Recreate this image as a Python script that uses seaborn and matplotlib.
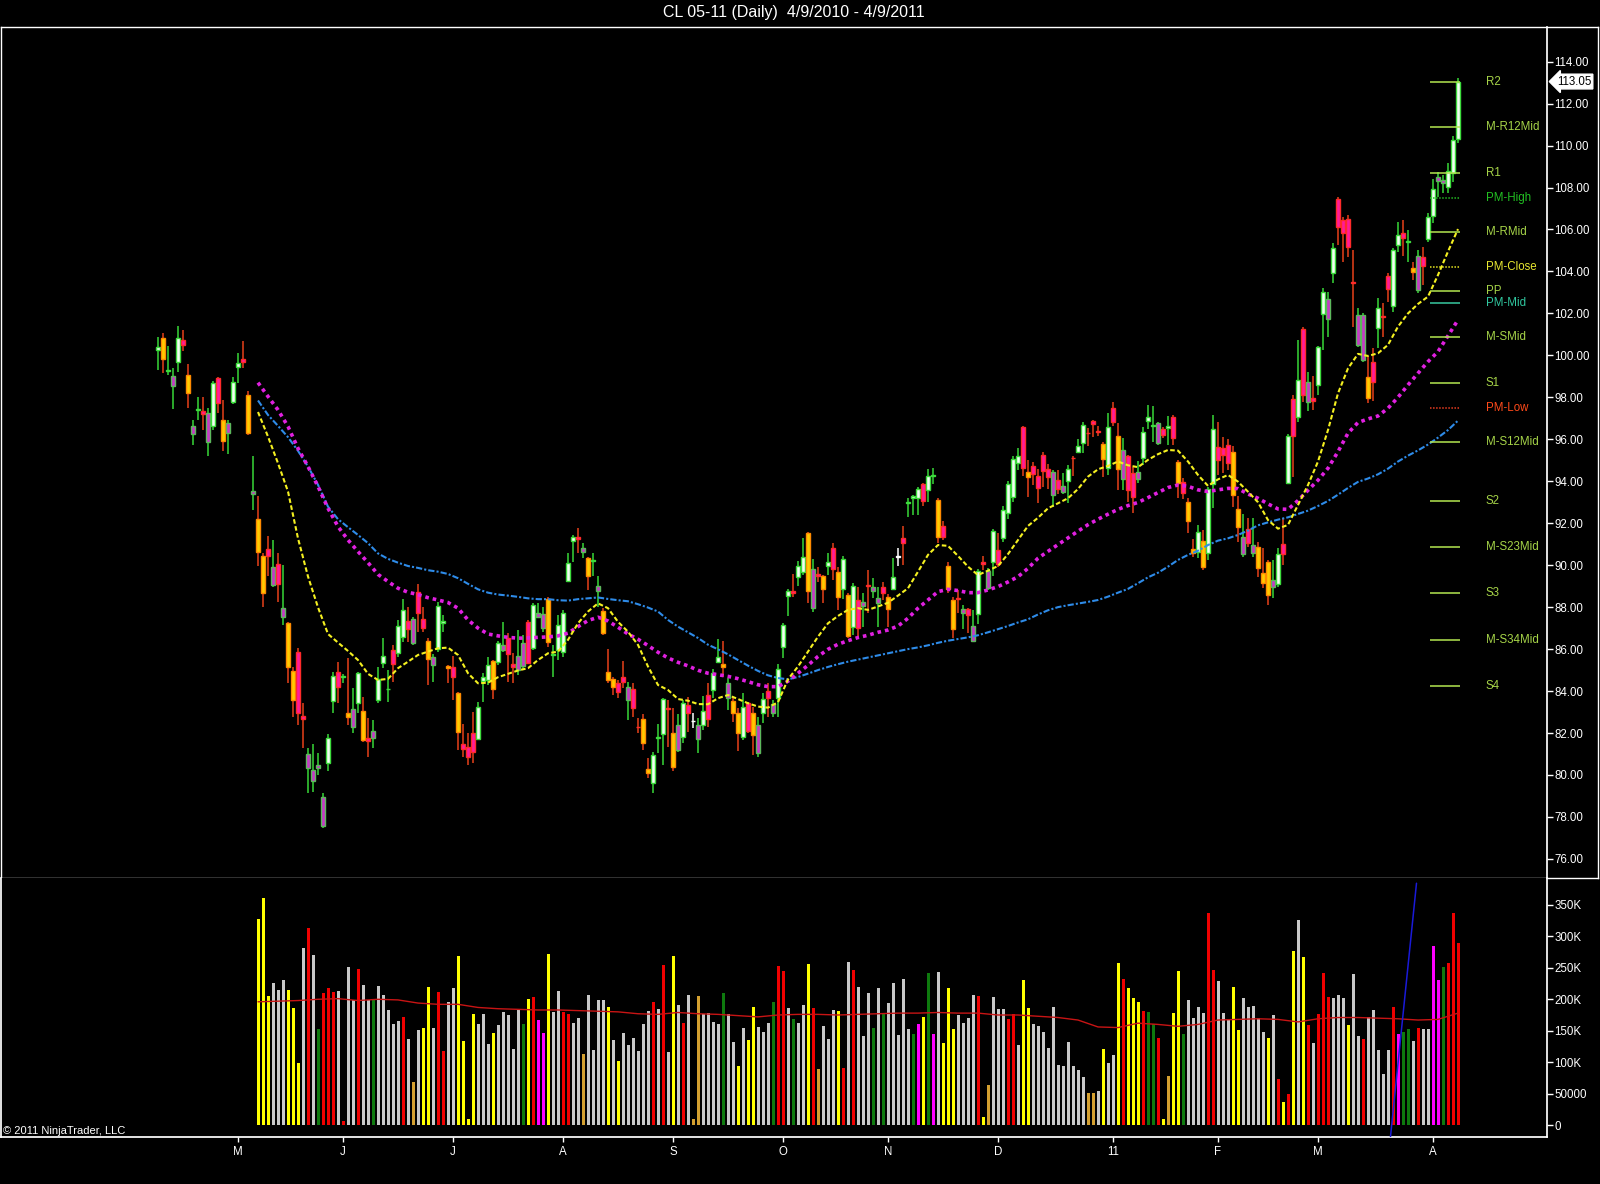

# Grafico diario del CL 05-11 con velas, medias, pivotes y volumen
#############################################################

import matplotlib
matplotlib.use('Agg')
import matplotlib.pyplot as plt
import matplotlib.transforms as mtransforms
import seaborn as sns
import pandas as pd
import numpy as np

# Datos de las velas (una por dia habil, 4/9/2010 - 4/8/2011) ----------------
opens = [
    100.25, 100.82, 99.25, 98.56, 99.70, 100.74, 99.07, 96.24, 97.40, 97.37,
    95.89, 96.64, 98.91, 96.92, 96.32, 97.80, 99.43, 99.83, 98.12, 93.40,
    92.19, 90.44, 90.76, 89.06, 90.06, 87.55, 87.23, 84.96, 85.88, 82.82,
    80.32, 79.69, 80.32, 77.57, 80.56, 83.53, 84.93, 84.69, 82.94, 82.31,
    83.42, 83.07, 81.75, 81.75, 83.58, 85.33, 84.08, 85.96, 85.80, 86.60,
    87.32, 86.28, 88.74, 87.42, 86.40, 85.25, 86.01, 87.24, 85.20, 85.14,
    83.93, 81.50, 81.35, 81.99, 81.70, 84.50, 84.53, 85.45, 85.37, 85.96,
    86.52, 85.30, 85.01, 85.20, 87.31, 86.04, 87.52, 86.99, 88.38, 85.72,
    85.96, 85.88, 89.25, 91.13, 91.32, 90.62, 90.33, 90.20, 88.77, 87.83,
    84.93, 84.56, 84.40, 84.69, 83.58, 84.08, 82.30, 82.65, 80.27, 79.60,
    81.78, 81.96, 83.17, 82.02, 81.19, 81.83, 83.34, 82.55, 81.70, 82.38,
    83.82, 84.05, 85.40, 85.28, 83.66, 83.53, 82.94, 81.80, 83.42, 82.94,
    81.06, 82.94, 83.98, 82.97, 83.66, 86.12, 88.53, 88.77, 89.45, 89.69,
    91.52, 87.95, 89.58, 89.46, 89.98, 90.81, 89.69, 88.85, 88.58, 87.07,
    88.34, 88.05, 89.03, 88.79, 88.21, 88.95, 88.50, 88.85, 90.41, 91.28,
    92.98, 93.19, 93.19, 93.87, 93.58, 94.25, 93.11, 91.88, 89.96, 88.34,
    88.42, 87.71, 87.90, 86.40, 87.68, 90.17, 88.90, 90.17, 90.72, 91.28,
    92.50, 93.27, 94.89, 96.57, 94.46, 94.73, 94.25, 95.25, 94.57, 93.35,
    94.06, 93.50, 94.03, 95.10, 95.41, 95.81, 96.29, 96.88, 96.37, 95.76,
    94.62, 97.48, 96.16, 94.09, 95.22, 94.38, 94.09, 95.10, 96.89, 96.63,
    95.81, 96.48, 96.55, 97.05, 94.94, 93.98, 93.03, 90.75, 90.65, 91.17,
    90.57, 93.87, 95.65, 95.57, 95.73, 95.41, 92.66, 90.53, 91.71, 90.57,
    90.85, 89.64, 90.17, 88.98, 89.10, 91.01, 93.93, 97.91, 97.05, 101.24,
    97.80, 97.95, 98.59, 101.97, 101.72, 103.91, 107.45, 106.45, 106.49, 103.47,
    100.50, 99.78, 98.99, 99.70, 101.29, 101.88, 103.79, 102.36, 105.26, 105.82,
    105.40, 104.15, 103.12, 104.67, 105.53, 106.65, 108.33, 108.23, 108.04, 108.71,
    110.30,
]
highs = [
    100.89, 101.05, 100.45, 99.39, 101.40, 101.21, 99.59, 96.92, 98.03, 98.00,
    97.48, 98.78, 98.95, 97.88, 96.92, 98.99, 100.10, 100.70, 98.32, 95.21,
    93.30, 90.57, 91.39, 91.20, 90.57, 90.00, 87.31, 85.17, 86.04, 83.42,
    81.27, 81.48, 81.03, 79.13, 81.94, 84.93, 85.40, 84.82, 85.56, 84.14,
    84.93, 83.74, 82.70, 82.63, 85.17, 86.52, 85.01, 86.20, 87.39, 88.38,
    88.03, 87.55, 89.09, 88.03, 86.52, 85.77, 88.26, 87.63, 85.25, 85.68,
    83.97, 82.43, 81.99, 83.02, 83.50, 84.85, 85.61, 85.49, 86.40, 87.31,
    86.75, 85.80, 86.91, 86.68, 87.39, 88.19, 88.19, 88.03, 88.47, 86.20,
    87.63, 87.84, 90.57, 91.44, 91.76, 91.08, 90.41, 90.57, 89.49, 87.95,
    85.99, 84.69, 84.53, 85.45, 84.45, 84.40, 82.70, 82.91, 80.83, 81.11,
    82.43, 83.66, 83.58, 83.18, 82.91, 83.58, 83.74, 82.94, 82.70, 83.77,
    84.37, 85.04, 86.47, 86.40, 84.61, 83.74, 83.18, 83.93, 83.50, 83.26,
    82.78, 83.90, 84.37, 83.58, 85.29, 87.23, 88.85, 89.58, 90.22, 91.28,
    91.60, 90.28, 89.93, 89.53, 90.60, 91.08, 89.93, 90.44, 88.66, 89.17,
    88.98, 88.66, 89.77, 89.37, 88.98, 89.22, 88.63, 90.33, 90.80, 91.87,
    93.19, 93.35, 93.71, 93.90, 94.57, 94.62, 93.19, 92.12, 90.17, 88.50,
    88.82, 88.10, 87.95, 87.87, 89.80, 90.44, 89.85, 91.71, 91.52, 92.82,
    94.03, 95.18, 95.57, 96.64, 95.01, 94.94, 94.57, 95.41, 94.83, 94.54,
    94.54, 94.38, 94.78, 95.20, 96.00, 96.84, 96.53, 96.92, 96.64, 95.89,
    97.27, 97.80, 96.76, 96.05, 95.25, 94.67, 94.98, 96.57, 97.64, 97.59,
    96.84, 96.60, 97.11, 97.16, 95.02, 94.14, 93.19, 91.23, 91.92, 91.68,
    93.71, 97.16, 96.80, 96.10, 96.00, 95.68, 93.30, 92.44, 92.24, 92.24,
    91.12, 90.80, 90.25, 90.25, 90.80, 92.23, 96.25, 98.11, 100.73, 101.37,
    99.22, 99.02, 100.45, 103.20, 103.04, 105.34, 107.53, 106.61, 106.69, 105.02,
    102.28, 102.04, 99.94, 100.34, 102.72, 102.51, 103.91, 105.10, 106.37, 106.45,
    105.98, 104.47, 105.02, 105.18, 106.80, 108.40, 108.76, 108.60, 109.16, 110.46,
    113.21,
]
lows = [
    99.30, 99.15, 99.07, 97.43, 99.23, 100.23, 97.48, 95.73, 96.92, 96.45,
    95.21, 96.45, 97.27, 95.46, 95.30, 97.70, 98.67, 99.39, 96.21, 92.63,
    89.96, 88.03, 89.46, 88.98, 88.26, 87.15, 84.37, 82.78, 82.39, 81.27,
    79.13, 79.21, 80.00, 77.46, 80.21, 82.94, 83.42, 84.37, 82.39, 81.99,
    82.94, 81.59, 80.84, 81.27, 83.45, 85.09, 83.47, 84.45, 85.64, 86.36,
    86.36, 86.20, 86.83, 86.83, 84.29, 84.45, 85.88, 86.83, 84.37, 83.55,
    81.19, 80.88, 80.48, 80.56, 81.70, 83.50, 84.29, 83.62, 85.25, 85.88,
    84.45, 84.37, 84.77, 84.98, 85.33, 85.96, 87.47, 86.83, 86.12, 84.66,
    85.48, 85.64, 89.22, 90.17, 90.57, 90.33, 88.82, 89.46, 88.00, 86.67,
    84.37, 83.81, 83.65, 84.13, 82.62, 82.75, 81.99, 81.19, 79.84, 79.16,
    81.03, 80.48, 81.35, 80.20, 81.11, 81.54, 82.07, 82.23, 81.03, 82.15,
    82.30, 83.66, 85.32, 84.66, 83.10, 82.54, 81.16, 81.67, 81.99, 80.96,
    80.84, 82.46, 82.78, 82.78, 82.75, 85.56, 87.58, 88.47, 89.01, 89.53,
    88.18, 87.79, 89.22, 88.18, 89.53, 89.30, 87.87, 88.37, 86.52, 86.67,
    86.52, 87.07, 87.71, 88.42, 87.04, 88.34, 87.04, 88.82, 89.98, 90.01,
    92.31, 92.39, 92.39, 92.82, 93.03, 93.87, 91.04, 91.20, 88.66, 86.52,
    87.71, 86.94, 86.75, 86.36, 87.20, 89.77, 88.82, 89.48, 89.93, 91.12,
    92.19, 93.03, 94.54, 94.25, 93.24, 93.82, 92.98, 93.74, 93.62, 92.79,
    93.40, 93.40, 92.95, 94.25, 95.33, 95.33, 95.68, 96.13, 96.16, 94.22,
    94.30, 96.64, 93.59, 93.59, 93.03, 92.47, 93.90, 94.78, 96.48, 95.89,
    95.73, 96.05, 95.73, 95.73, 93.19, 93.14, 91.52, 90.41, 90.33, 89.77,
    90.25, 92.71, 94.30, 94.38, 94.54, 92.79, 91.12, 90.41, 90.85, 90.41,
    89.45, 88.90, 88.10, 88.42, 88.98, 90.01, 93.87, 94.22, 96.84, 97.80,
    97.36, 97.40, 98.11, 100.26, 100.89, 103.47, 105.26, 104.47, 104.67, 101.37,
    100.42, 99.70, 97.75, 97.84, 100.34, 100.89, 102.56, 102.09, 104.94, 104.74,
    104.47, 103.60, 102.96, 103.36, 105.42, 106.33, 107.57, 107.72, 107.72, 108.28,
    110.11,
]
closes = [
    100.40, 99.82, 99.28, 99.02, 100.82, 100.47, 98.19, 96.61, 97.45, 97.20,
    97.27, 98.70, 97.72, 95.94, 96.76, 98.72, 99.62, 99.70, 96.29, 93.54,
    90.65, 88.66, 90.44, 89.90, 89.11, 87.95, 85.17, 83.58, 82.97, 82.69,
    81.00, 80.24, 80.48, 78.94, 81.75, 84.72, 84.21, 84.70, 82.78, 83.13,
    84.85, 81.67, 81.64, 82.12, 84.58, 85.65, 84.10, 85.29, 87.10, 87.87,
    86.95, 87.42, 87.71, 86.99, 85.52, 85.64, 88.06, 87.36, 85.09, 84.69,
    82.07, 81.23, 80.88, 81.08, 83.23, 84.66, 85.23, 84.08, 86.31, 86.20,
    85.77, 85.17, 85.67, 86.31, 85.36, 88.11, 87.71, 87.68, 86.36, 85.74,
    87.15, 87.71, 90.12, 91.32, 91.24, 90.81, 89.49, 90.22, 89.03, 86.75,
    84.53, 84.21, 83.97, 84.45, 84.18, 83.18, 82.27, 81.51, 80.08, 80.95,
    81.80, 83.61, 83.15, 80.37, 82.38, 83.45, 82.97, 82.55, 82.38, 83.07,
    82.65, 84.88, 85.61, 85.16, 84.37, 82.97, 82.02, 83.26, 82.11, 81.91,
    82.38, 83.61, 83.66, 83.39, 85.04, 87.16, 88.77, 88.66, 89.98, 90.41,
    88.79, 89.80, 89.46, 88.85, 90.17, 89.80, 88.47, 90.28, 86.63, 89.01,
    87.02, 88.26, 89.02, 88.95, 88.42, 88.66, 87.90, 89.42, 90.41, 91.08,
    93.00, 93.30, 93.62, 93.08, 94.25, 94.27, 91.36, 91.36, 88.85, 86.94,
    88.37, 87.90, 87.63, 87.10, 89.74, 90.06, 89.74, 91.65, 90.06, 92.63,
    93.87, 95.06, 95.21, 94.62, 94.22, 94.35, 93.66, 94.51, 94.19, 94.46,
    93.62, 93.79, 94.57, 95.09, 95.70, 96.68, 96.28, 96.72, 96.36, 95.05,
    96.57, 96.80, 94.57, 95.49, 93.59, 93.27, 94.46, 96.37, 97.05, 96.64,
    96.76, 96.21, 96.61, 96.08, 93.90, 93.46, 92.12, 90.57, 91.60, 89.93,
    93.62, 96.48, 95.02, 95.25, 94.89, 93.35, 91.80, 91.36, 91.08, 90.96,
    89.85, 89.14, 88.58, 89.30, 90.53, 90.53, 96.16, 96.16, 98.83, 98.11,
    98.75, 97.84, 100.39, 103.02, 102.67, 105.10, 106.10, 105.82, 105.15, 103.46,
    101.91, 101.91, 97.95, 98.75, 102.24, 101.82, 103.15, 105.02, 105.74, 105.58,
    105.42, 103.96, 104.74, 104.26, 106.61, 107.92, 108.49, 108.36, 108.80, 110.27,
    113.05,
]
# 1 = vela pintada en magenta
magenta_paint = [
    0, 0, 0, 1, 0, 1, 0, 1, 0, 1, 1, 0, 1, 0, 1, 0, 0, 1, 0, 1,
    0, 0, 1, 1, 1, 1, 0, 0, 1, 1, 1, 1, 1, 1, 0, 0, 1, 0, 0, 1,
    0, 0, 1, 1, 0, 0, 0, 1, 0, 0, 1, 1, 1, 1, 0, 1, 0, 0, 0, 1,
    0, 1, 1, 1, 0, 0, 0, 0, 0, 1, 1, 1, 1, 1, 1, 0, 1, 1, 0, 0,
    0, 0, 0, 0, 1, 1, 0, 0, 1, 0, 0, 0, 1, 1, 1, 1, 1, 0, 0, 0,
    0, 0, 1, 0, 1, 0, 1, 0, 1, 0, 1, 0, 0, 0, 1, 0, 0, 0, 1, 0,
    1, 0, 1, 1, 0, 0, 0, 1, 0, 0, 0, 1, 1, 0, 0, 1, 0, 0, 0, 0,
    1, 1, 1, 1, 1, 1, 0, 0, 0, 1, 0, 0, 0, 1, 0, 0, 0, 1, 0, 0,
    1, 1, 1, 1, 0, 1, 1, 0, 1, 0, 0, 0, 0, 1, 0, 1, 1, 1, 1, 1,
    1, 1, 0, 1, 0, 0, 1, 1, 1, 0, 0, 1, 0, 1, 1, 1, 1, 0, 0, 0,
    1, 1, 0, 1, 0, 1, 0, 0, 0, 0, 0, 0, 1, 1, 1, 0, 0, 1, 1, 1,
    0, 0, 0, 1, 0, 1, 0, 1, 0, 1, 1, 1, 0, 0, 1, 0, 1, 1, 1, 1,
    1, 1, 0, 1, 0, 1, 1, 0, 0, 1, 0, 0, 1, 1, 0, 0, 1, 1, 0, 0,
    0,
]

# Medias moviles leidas cada 2 velas, desde la vela 20
ma_start, ma_step = 20, 2
ma_fast = [
    97.30, 96.13, 94.86, 93.51, 91.28, 89.46, 87.99, 86.72, 86.31, 85.91,
    85.48, 84.82, 84.53, 84.58, 85.09, 85.40, 85.72, 85.88, 86.04, 86.07,
    85.72, 84.85, 84.37, 84.40, 84.66, 84.82, 84.98, 85.09, 85.48, 85.80,
    85.88, 86.44, 87.23, 87.79, 88.18, 87.95, 87.30, 86.83, 86.20, 85.17,
    84.29, 84.05, 83.62, 83.54, 83.38, 83.37, 83.66, 83.81, 83.62, 83.42,
    83.26, 83.21, 83.47, 84.56, 85.17, 85.88, 86.59, 87.23, 87.58, 87.87,
    87.95, 87.87, 88.03, 88.21, 88.55, 88.90, 89.69, 90.49, 90.96, 90.92,
    90.44, 89.93, 89.53, 89.74, 89.96, 90.53, 91.20, 91.87, 92.26, 92.71,
    92.95, 93.19, 93.63, 94.22, 94.57, 94.73, 94.94, 94.76, 94.67, 95.02,
    95.29, 95.49, 95.46, 94.94, 94.30, 93.78, 94.09, 94.30, 93.98, 93.50,
    93.00, 92.15, 91.74, 91.92, 92.87, 93.82, 94.94, 96.44, 98.19, 99.38,
    100.07, 99.97, 100.10, 100.50, 101.37, 102.00, 102.45, 102.80, 103.83, 104.95,
    106.02,
]
ma_mid = [
    98.70, 98.04, 97.40, 96.61, 95.57, 94.70, 93.75, 92.71, 91.84, 91.20,
    90.65, 90.12, 89.56, 89.22, 88.90, 88.71, 88.60, 88.45, 88.34, 88.22,
    87.95, 87.39, 87.00, 86.72, 86.63, 86.56, 86.52, 86.53, 86.56, 86.58,
    86.63, 86.76, 87.07, 87.36, 87.52, 87.34, 87.04, 86.72, 86.47, 86.17,
    85.85, 85.58, 85.37, 85.20, 84.99, 84.85, 84.78, 84.70, 84.59, 84.45,
    84.30, 84.21, 84.21, 84.47, 84.85, 85.23, 85.65, 85.99, 86.23, 86.40,
    86.55, 86.66, 86.80, 86.91, 87.10, 87.47, 87.95, 88.34, 88.74, 88.85,
    88.79, 88.69, 88.69, 88.82, 88.98, 89.20, 89.45, 89.85, 90.33, 90.66,
    90.98, 91.30, 91.62, 91.93, 92.19, 92.43, 92.66, 92.84, 92.99, 93.22,
    93.46, 93.70, 93.82, 93.76, 93.59, 93.51, 93.59, 93.66, 93.65, 93.39,
    93.19, 92.92, 92.68, 92.66, 93.08, 93.57, 94.05, 94.62, 95.41, 96.29,
    96.80, 96.97, 97.11, 97.48, 98.00, 98.59, 99.15, 99.70, 100.18, 100.93,
    101.69,
]
ma_slow = [
    97.85, 97.16, 96.64, 96.10, 95.45, 94.70, 93.83, 92.79, 92.19, 91.81,
    91.44, 91.05, 90.56, 90.30, 90.12, 89.96, 89.87, 89.76, 89.69, 89.58,
    89.38, 89.11, 88.85, 88.69, 88.60, 88.55, 88.49, 88.42, 88.38, 88.38,
    88.33, 88.31, 88.38, 88.42, 88.46, 88.39, 88.33, 88.28, 88.14, 87.98,
    87.79, 87.39, 87.07, 86.80, 86.53, 86.21, 85.99, 85.75, 85.48, 85.21,
    84.96, 84.75, 84.62, 84.56, 84.67, 84.83, 85.00, 85.15, 85.28, 85.40,
    85.50, 85.60, 85.70, 85.80, 85.90, 86.00, 86.08, 86.18, 86.30, 86.40,
    86.48, 86.56, 86.66, 86.80, 86.95, 87.10, 87.27, 87.42, 87.65, 87.85,
    88.00, 88.09, 88.17, 88.25, 88.34, 88.50, 88.69, 88.87, 89.14, 89.42,
    89.64, 89.93, 90.25, 90.49, 90.69, 90.96, 91.17, 91.28, 91.44, 91.65,
    91.90, 92.04, 92.17, 92.28, 92.44, 92.60, 92.82, 93.06, 93.36, 93.68,
    93.97, 94.13, 94.33, 94.60, 94.94, 95.22, 95.47, 95.75, 96.08, 96.44,
    96.89,
]

# Niveles pivote del mes
pivot_names = ['R2', 'M-R12Mid', 'R1', 'PM-High', 'M-RMid', 'PM-Close', 'PP',
               'PM-Mid', 'M-SMid', 'S1', 'PM-Low', 'M-S12Mid', 'S2',
               'M-S23Mid', 'S3', 'M-S34Mid', 'S4']
pivot_levels = [113.05, 110.87, 108.68, 107.49, 105.87, 104.23, 103.05,
                102.48, 100.89, 98.67, 97.48, 95.86, 93.06,
                90.85, 88.66, 86.44, 84.24]
pivot_first_bar, pivot_last_bar = 254.4, 260.4
last_price = 113.05

# Volumen (desde la vela 20)
vol_start = 20
volumes = [
    327.7, 360.6, 205.2, 225.9, 214.8, 230.7, 214.8, 186.1, 98.6, 281.6,
    313.9, 270.5, 152.7, 210.5, 218.5, 211.6, 213.2, 6.4, 251.3, 198.9,
    248.7, 222.7, 198.9, 199.9, 221.1, 206.8, 182.9, 160.7, 165.5, 172.3,
    136.8, 68.4, 151.1, 154.3, 219.6, 154.3, 211.6, 118.3, 195.7, 218.0,
    268.9, 133.6, 9.6, 176.6, 161.2, 176.6, 128.9, 146.3, 159.1, 179.8,
    175.0, 120.9, 184.5, 160.7, 200.4, 203.6, 167.0, 146.3, 272.0, 179.8,
    213.2, 179.8, 176.6, 162.3, 170.2, 113.0, 206.8, 119.3, 198.9, 198.9,
    187.7, 135.2, 101.8, 146.3, 127.3, 138.4, 117.7, 160.7, 181.4, 195.7,
    184.5, 254.5, 116.1, 268.9, 190.9, 162.3, 206.8, 9.6, 205.2, 176.6,
    178.2, 163.9, 160.7, 210.0, 176.6, 132.0, 93.9, 154.3, 135.2, 187.7,
    155.9, 148.0, 162.3, 195.7, 252.9, 245.0, 186.1, 168.6, 162.3, 190.9,
    256.1, 186.1, 89.1, 157.5, 136.8, 182.9, 181.4, 90.7, 259.3, 246.6,
    219.6, 141.6, 210.0, 154.3, 218.0, 176.6, 194.1, 225.9, 143.2, 232.3,
    152.7, 144.8, 160.7, 171.8, 241.8, 144.8, 243.4, 130.5, 218.0, 152.7,
    175.0, 162.3, 170.2, 206.8, 205.2, 12.7, 63.6, 203.6, 184.5, 184.5,
    168.6, 176.6, 127.3, 230.7, 186.1, 160.7, 157.5, 148.0, 122.5, 187.7,
    95.5, 93.9, 132.0, 93.9, 87.5, 76.4, 50.9, 50.9, 54.1, 120.9,
    98.6, 111.4, 257.7, 232.3, 218.0, 202.0, 195.7, 181.4, 179.8, 160.7,
    138.4, 9.6, 77.9, 178.2, 245.0, 144.8, 198.9, 170.2, 187.7, 178.2,
    337.3, 246.6, 229.1, 178.2, 168.6, 219.6, 151.1, 202.0, 187.7, 189.3,
    170.2, 148.0, 138.4, 175.0, 73.2, 36.6, 49.3, 276.8, 326.1, 267.3,
    159.1, 130.5, 176.6, 241.8, 203.6, 202.0, 206.8, 202.0, 159.1, 240.2,
    141.6, 136.8, 171.8, 182.9, 119.3, 81.1, 119.3, 187.7, 144.8, 148.0,
    152.7, 133.6, 154.3, 152.7, 152.7, 284.8, 230.7, 251.3, 257.7, 337.3,
    289.6,
]
vol_codes = (
    "yyywwwyyyw" "rwgrrrwrww" "rwwgwwwwwr" "wtwyywrrww" "yyyywwwyww"
    "wwwgyrmmyw" "wrrwwtwwww" "ywywwwwwwr" "wrwywrwttw" "wwwgwwywyy"
    "wwwgrrwgww" "yrtwwwyrwr" "wwwgwgwwww" "wgmygmwyyy" "wwwwrytwww"
    "rrwyywwwww" "wwwwwwttwy" "wwyryyyrgg" "rytyygwwww" "rrwwwyywww"
    "wwywryrywy" "rwrrrwwwyw" "wrwwwwwrmg" "gwrwwmmgrr" "r"
)
vol_avg_step = 4
vol_avg = [
    196, 197, 198, 200, 201, 198, 200, 199, 194, 192,
    192, 187, 185, 184, 183, 183, 182, 181, 180, 177,
    176, 179, 177, 176, 174, 172, 175, 176, 176, 175,
    176, 177, 178, 178, 179, 178, 178, 175, 175, 173,
    171, 167, 156, 155, 162, 160, 157, 160, 167, 168,
    169, 168, 164, 169, 171, 171, 170, 169, 167, 168,
    178,
]
# Linea de tendencia dibujada sobre el volumen
trend_bars = [246.5, 251.7]
trend_vol = [-18.6, 384.6]

vol_ticks = [0, 50, 100, 150, 200, 250, 300, 350]
vol_tick_labels = ['0', '50000', '100K', '150K', '200K', '250K', '300K', '350K']
price_ticks = list(range(76, 115, 2))
month_labels = ['M', 'J', 'J', 'A', 'S', 'O', 'N', 'D', '11', 'F', 'M', 'A']

# Colores
UP_FILL, DN_FILL = '#F2FFF2', '#FFCC00'
UP_MAG_FILL, DN_MAG_FILL = '#C838C8', '#FF1A9C'
UP_EDGE, DN_EDGE = '#3CDC3C', '#FF8A00'
UP_MAG_EDGE, DN_MAG_EDGE = '#5CB85C', '#FF2A2A'
UP_WICK, DN_WICK = '#38D838', '#E8401A'
vol_colors = {'y': '#FFFF00', 'w': '#C8C8C8', 'r': '#F00000',
              'g': '#0E7A0E', 'm': '#FF00FF', 't': '#D4A030'}

# Estilo general -----------------------------------------------
sns.set_theme(style='dark', rc={
    'figure.facecolor': 'black', 'axes.facecolor': 'black',
    'axes.edgecolor': 'white', 'text.color': 'white',
    'xtick.color': 'white', 'ytick.color': 'white', 'axes.grid': False,
})
plt.rcParams['font.family'] = ['Liberation Sans', 'DejaVu Sans']

W, H = 1600, 1184
fig = plt.figure(figsize=(W / 100, H / 100), dpi=100, facecolor='black')


def caja(x0, y0, x1, y1):
    # caja en pixeles -> fracciones de la figura
    return [x0 / W, 1 - y1 / H, (x1 - x0) / W, (y1 - y0) / H]


marco = fig.add_axes(caja(1, 27, 1598, 878))
ax = fig.add_axes(caja(1, 27, 1547, 878))
axv = fig.add_axes(caja(1, 878, 1547, 1137))

marco.set_xticks([])
marco.set_yticks([])
for s in marco.spines.values():
    s.set_color('white')
    s.set_linewidth(1)
ax.set_facecolor('none')
ax.set_zorder(2)
for name, s in ax.spines.items():
    s.set_visible(name == 'right')
    s.set_color('white')
for name, s in axv.spines.items():
    s.set_visible(name != 'top')
    s.set_color('white')

xlim = (-31.4, 277.8)

# Velas -----------------------------------------------------------
o, h, l, c = (np.array(v) for v in (opens, highs, lows, closes))
paint = np.array(magenta_paint)
idx = np.arange(len(c))
up = c > o
doji = c == o

fills = np.where(paint == 1, np.where(up, UP_MAG_FILL, DN_MAG_FILL),
                 np.where(up, UP_FILL, DN_FILL))
edges = np.where(paint == 1, np.where(up, UP_MAG_EDGE, DN_MAG_EDGE),
                 np.where(up, UP_EDGE, DN_EDGE))
wicks = np.where(up, UP_WICK, DN_WICK)
fills[doji] = 'white'
edges[doji] = 'white'
wicks[doji] = 'white'

ax.vlines(idx, l, h, colors=wicks, linewidth=1.1, zorder=3)
ax.bar(idx, np.maximum(np.abs(c - o), 0.04), bottom=np.minimum(o, c),
       width=0.8, color=fills, edgecolor=edges, linewidth=1.0, zorder=4)

# Medias moviles
ma_idx = ma_start + ma_step * np.arange(len(ma_fast))
sns.lineplot(x=ma_idx, y=ma_slow, ax=ax, color='#2E8BE8', linewidth=1.5,
             linestyle=(0, (3, 1, 1, 1)), estimator=None, errorbar=None,
             sort=False, zorder=5)
sns.lineplot(x=ma_idx, y=ma_mid, ax=ax, color='#E020E0', linewidth=2.6,
             linestyle=(0, (1, 1.1)), estimator=None, errorbar=None,
             sort=False, zorder=5)
sns.lineplot(x=ma_idx, y=ma_fast, ax=ax, color='#F4F020', linewidth=1.5,
             linestyle=(0, (2.2, 1.2)), estimator=None, errorbar=None,
             sort=False, zorder=6)

# Pivotes
for name, level in zip(pivot_names, pivot_levels):
    if name == 'PM-High':
        lc, tc, ls = '#22B822', '#22C022', (0, (1, 1))
    elif name == 'PM-Close':
        lc, tc, ls = '#E6E620', '#E8E830', (0, (1, 1))
    elif name == 'PM-Low':
        lc, tc, ls = '#E83C20', '#FF4A1A', (0, (1, 1))
    elif name == 'PM-Mid':
        lc, tc, ls = '#38C8A0', '#30C8A0', '-'
    else:
        lc, tc, ls = '#B4E650', '#A6D448', '-'
    ax.hlines(level, pivot_first_bar, pivot_last_bar, colors=lc,
              linestyles=ls, linewidth=1.1, zorder=5)
    ax.text(265.6, level, name, color=tc, fontsize=8.3, ha='left',
            va='center', zorder=6)

ax.set_xlim(*xlim)
ax.set_ylim(75.09, 115.65)
ax.set_xticks([])
ax.yaxis.tick_right()
ax.set_yticks(price_ticks)
ax.set_yticklabels([f'{p:.2f}' for p in price_ticks])
ax.tick_params(axis='y', right=True, left=False, length=4.3, width=1,
               colors='white', labelsize=8.3, pad=1)
ax.set_xlabel('')
ax.set_ylabel('')

# Marca del ultimo precio
trans = mtransforms.blended_transform_factory(ax.transAxes, ax.transData)
ax.text(1.0065, last_price, f'{last_price:.2f}', transform=trans,
        color='black', fontsize=8.3, ha='left', va='center', zorder=10,
        clip_on=False,
        bbox=dict(boxstyle='larrow,pad=0.12', fc='white', ec='white'))

# Volumen ---------------------------------------------------------
vol_idx = vol_start + np.arange(len(volumes))
axv.bar(vol_idx, np.array(volumes) * 1000, width=0.6,
        color=[vol_colors[k] for k in vol_codes], linewidth=0, zorder=2)
va_idx = vol_start + vol_avg_step * np.arange(len(vol_avg))
sns.lineplot(x=va_idx, y=np.array(vol_avg) * 1000, ax=axv, color='#C81414',
             linewidth=1.0, estimator=None, errorbar=None, sort=False,
             zorder=3)
axv.plot(trend_bars, np.array(trend_vol) * 1000, color='#1A1AD8',
         linewidth=1.1, zorder=4)

axv.set_xlim(*xlim)
axv.set_ylim(-19090, 392950)
axv.yaxis.tick_right()
axv.set_yticks(np.array(vol_ticks) * 1000)
axv.set_yticklabels(vol_tick_labels)
axv.tick_params(axis='y', right=True, left=False, length=4.3, width=1,
                colors='white', labelsize=8.3, pad=1)

# Meses en el eje x
dates = pd.bdate_range('2010-04-09', '2011-04-08')
first_bar = pd.Series(np.arange(len(dates)), index=dates) \
    .groupby(dates.to_period('M')).min()
axv.set_xticks(first_bar.values[1:])
axv.set_xticklabels(month_labels)
axv.tick_params(axis='x', bottom=True, length=3.6, width=1, colors='white',
                labelsize=8.3, pad=3)
axv.set_xlabel('')
axv.set_ylabel('')

# Textos
fig.text(0.496, 1 - 13 / H, 'CL 05-11 (Daily)  4/9/2010 - 4/9/2011',
         ha='center', va='center', color='white', fontsize=11.5)
fig.text(3 / W, 1 - 1131 / H, '\u00a9 2011 NinjaTrader, LLC', ha='left',
         va='center', color='white', fontsize=8)

fig.savefig('out.png', dpi=100, facecolor='black')
